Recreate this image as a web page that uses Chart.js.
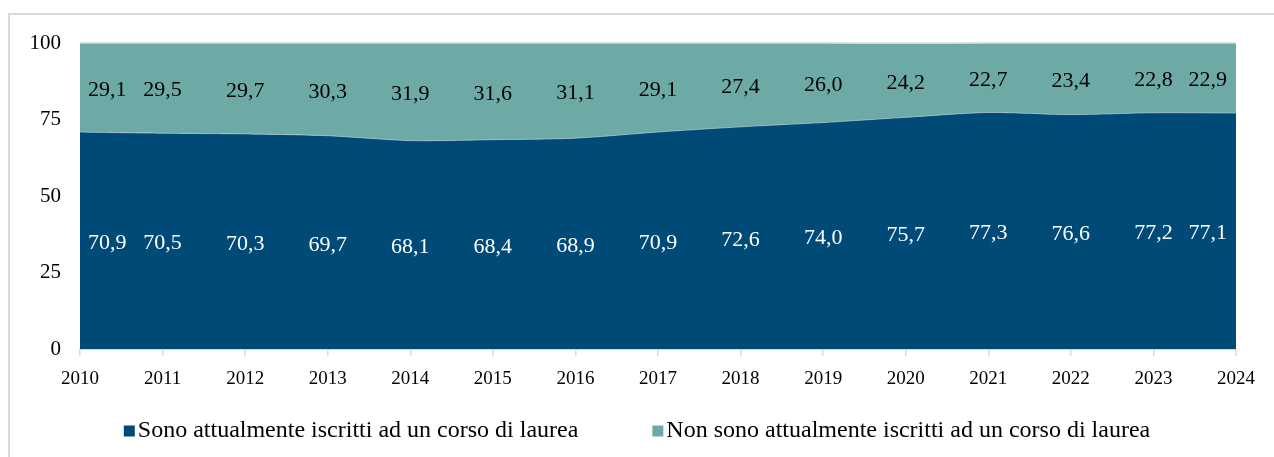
<!DOCTYPE html>
<html><head><meta charset="utf-8">
<script src="https://cdn.jsdelivr.net/npm/chart.js@4.4.0/dist/chart.umd.min.js"></script>
<style>
html,body{margin:0;padding:0;background:#fff;overflow:hidden;width:1274px;height:457px;}
#frame{position:absolute;left:8px;top:13px;width:1300px;height:500px;border:2px solid #d9d9d9;box-sizing:border-box;}
#wrap{position:absolute;left:0;top:0;width:1274px;height:457px;}
</style></head><body>
<div id="frame"></div>
<div id="wrap"><canvas id="c" width="1274" height="457"></canvas></div>
<script>
const years = ['2010','2011','2012','2013','2014','2015','2016','2017','2018','2019','2020','2021','2022','2023','2024'];
const iscritti = [70.9,70.5,70.3,69.7,68.1,68.4,68.9,70.9,72.6,74.0,75.7,77.3,76.6,77.2,77.1];
const nonIscritti = [29.1,29.5,29.7,30.3,31.9,31.6,31.1,29.1,27.4,26.0,24.2,22.7,23.4,22.8,22.9];
const yTicks = [0,25,50,75,100];
const seriesNames = ['Sono attualmente iscritti ad un corso di laurea','Non sono attualmente iscritti ad un corso di laurea'];
const seriesColors = ['#004A77','#6DAAA5'];
const labelColors = ['#ffffff','#000000'];

const FONT = '"Liberation Serif", "Times New Roman", serif';

const dataLabels = {
  id:'dataLabels',
  afterDatasetsDraw(chart){
    const ctx = chart.ctx, ys = chart.scales.y, area = chart.chartArea;
    ctx.save();
    ctx.font = '22px ' + FONT;
    ctx.textAlign = 'center';
    ctx.textBaseline = 'middle';
    chart.data.datasets.forEach((ds,i)=>{
      const meta = chart.getDatasetMeta(i);
      ds.data.forEach((v,j)=>{
        const base = i===0 ? 0 : chart.data.datasets[0].data[j];
        const y = ys.getPixelForValue(base + v/2) + 2.5;
        const txt = v.toFixed(1).replace('.',',');
        const w = ctx.measureText(txt).width;
        let x = meta.data[j].x;
        x = Math.max(area.left + 8 + w/2, Math.min(area.right - 9 - w/2, x));
        ctx.fillStyle = labelColors[i];
        ctx.fillText(txt, x, y);
      });
    });
    ctx.restore();
  }
};

const customLegend = {
  id:'customLegend',
  afterDraw(chart){
    const ctx = chart.ctx;
    ctx.save();
    ctx.font = '24px ' + FONT;
    ctx.textBaseline = 'middle';
    const box = 11, gap = 3, between = 74;
    const widths = seriesNames.map(t=>ctx.measureText(t).width);
    const total = widths.reduce((a,b)=>a+b,0) + seriesNames.length*(box+gap) + between*(seriesNames.length-1);
    let x = (chart.width - total)/2;
    const cy = 431;
    seriesNames.forEach((t,i)=>{
      ctx.fillStyle = seriesColors[i];
      ctx.fillRect(x, cy-5.5, box, box);
      ctx.fillStyle = '#000';
      ctx.fillText(t, x+box+gap, cy);
      x += box + gap + widths[i] + between;
    });
    ctx.restore();
  }
};

new Chart(document.getElementById('c'), {
  type:'line',
  data:{
    labels: years,
    datasets:[
      {label:seriesNames[0], data:iscritti, fill:'origin', backgroundColor:seriesColors[0], borderColor:'rgba(190,210,220,0.6)', borderWidth:1, pointRadius:0, tension:0.25, clip:3},
      {label:seriesNames[1], data:nonIscritti, fill:'-1', backgroundColor:seriesColors[1], borderColor:'#d0d8d8', borderWidth:1.5, pointRadius:0, tension:0.25, clip:3}
    ]
  },
  options:{
    responsive:false,
    animation:false,
    layout:{padding:{top:43,right:38,left:0,bottom:0}},
    plugins:{legend:{display:false}, tooltip:{enabled:false}, title:{display:false}},
    scales:{
      x:{
        type:'category', offset:false,
        grid:{display:true, drawOnChartArea:false, drawTicks:true, tickLength:7, color:'#d9d9d9', lineWidth:1.5},
        border:{display:true, color:'#d9d9d9', width:2},
        ticks:{color:'#000', font:{family:FONT, size:19}, padding:12, autoSkip:false, maxRotation:0},
        afterFit(s){ s.height = 108; }
      },
      y:{
        stacked:true, min:0, max:100,
        afterBuildTicks(s){ s.ticks = yTicks.map(v=>({value:v})); },
        grid:{display:false},
        border:{display:false},
        ticks:{color:'#000', font:{family:FONT, size:21}, padding:11},
        afterFit(s){ s.width = 80; }
      }
    }
  },
  plugins:[dataLabels, customLegend]
});
</script>
</body></html>
